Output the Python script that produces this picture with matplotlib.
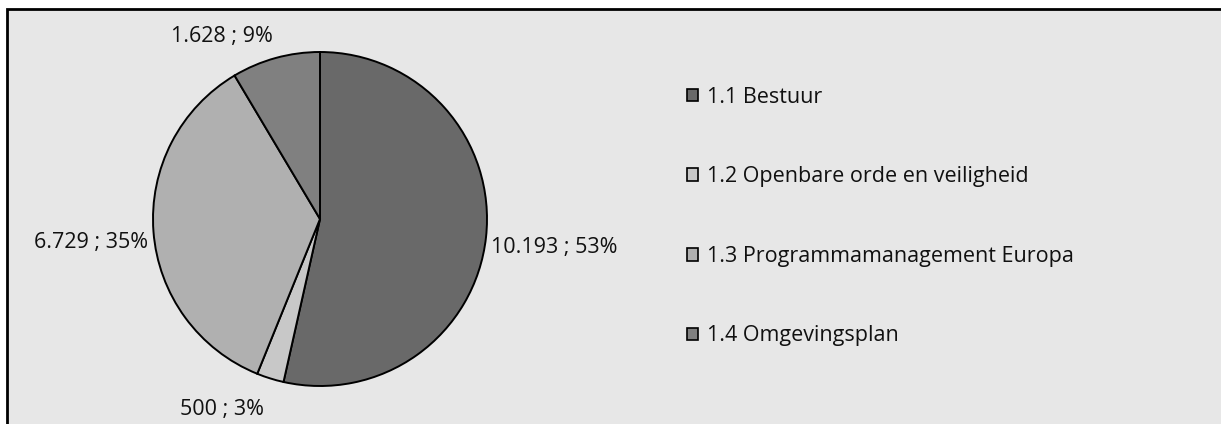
import matplotlib
matplotlib.use("Agg")
import matplotlib.pyplot as plt
from matplotlib.patches import Rectangle, Patch
import numpy as np

categories = ["1.1 Bestuur", "1.2 Openbare orde en veiligheid",
              "1.3 Programmamanagement Europa", "1.4 Omgevingsplan"]
values = [10193, 500, 6729, 1628]
value_labels = ["10.193", "500", "6.729", "1.628"]
percent_labels = ["53%", "3%", "35%", "9%"]
colors = ["#696969", "#c8c8c8", "#b0b0b0", "#808080"]

plt.rcParams['font.family'] = ['Open Sans', 'DejaVu Sans']

W, H = 1221, 424
fig = plt.figure(figsize=(W / 100, H / 100), dpi=100)
fig.patch.set_facecolor("white")

# chart area background with border (top/left visible)
bg = Rectangle((7 / W, -0.2), 1.3, 1.2 - 9 / H, transform=fig.transFigure,
               facecolor="#e7e7e7", edgecolor="black", linewidth=2.0, zorder=-5)
fig.patches.append(bg)

cx, cy, r = 320, 219, 167
ax = fig.add_axes([(cx - r) / W, (H - cy - r) / H, 2 * r / W, 2 * r / H])
ax.set_zorder(2)
ax.set_facecolor("none")
wedges, _ = ax.pie(values, colors=colors, startangle=90, counterclock=False,
                   radius=1.0,
                   wedgeprops=dict(edgecolor="black", linewidth=1.4))
ax.set_xlim(-1, 1)
ax.set_ylim(-1, 1)
ax.set_aspect("auto")
ax.axis("off")

for w, lab, pct in zip(wedges, value_labels, percent_labels):
    ang = np.deg2rad((w.theta1 + w.theta2) / 2)
    c, s = np.cos(ang), np.sin(ang)
    ha = "left" if c > 0 else "right"
    if abs(s) < 0.5:
        va, rr, dy = "center", 1.03, -0.06
    elif s < 0:
        va, rr, dy = "top", 1.13, 0
    else:
        va, rr, dy = "bottom", 1.07, 0
    ax.text(rr * c, rr * s + dy, f"{lab} ; {pct}", ha=ha, va=va,
            fontsize=15.5, color="#111111", clip_on=False)

handles = [Patch(facecolor=col, edgecolor="black", linewidth=1.2) for col in colors]
leg = fig.legend(handles, categories, loc="upper left",
                 bbox_to_anchor=(676 / W, 1 - 76 / H),
                 frameon=False, fontsize=15.5, labelspacing=2.72,
                 handlelength=0.52, handleheight=0.52, handletextpad=0.42,
                 borderpad=0, labelcolor="#111111")
leg.set_zorder(3)

fig.savefig("out.png", dpi=100)
